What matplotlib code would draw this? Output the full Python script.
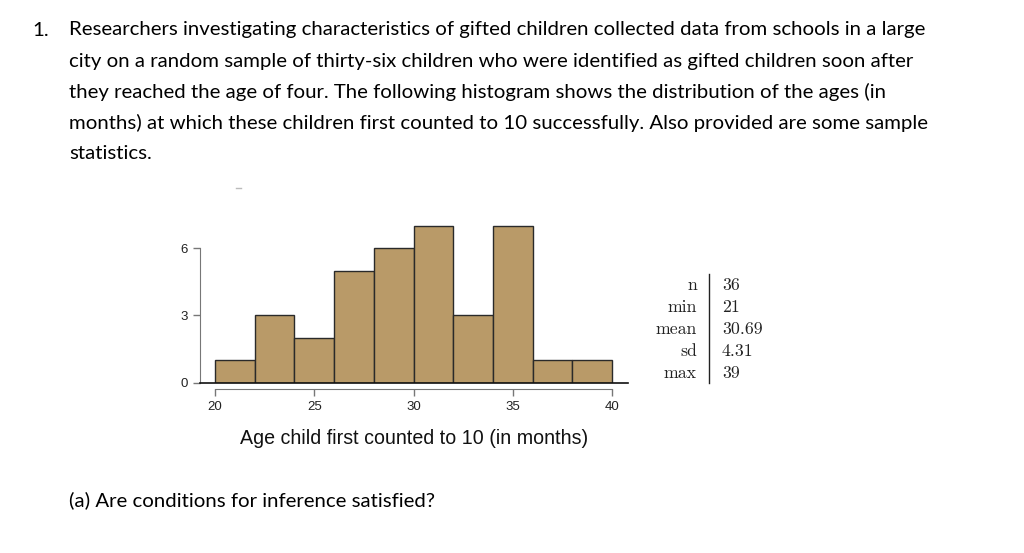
import matplotlib
matplotlib.use("Agg")
import matplotlib.pyplot as plt
import numpy as np

# ---- data ----
bin_edges = [20, 22, 24, 26, 28, 30, 32, 34, 36, 38, 40]
counts = [1, 3, 2, 5, 6, 7, 3, 7, 1, 1]
x_ticks = [20, 25, 30, 35, 40]
y_ticks = [0, 3, 6]
x_label = "Age child first counted to 10 (in months)"
stat_names = ["n", "min", "mean", "sd", "max"]
stat_values = ["36", "21", "30.69", "4.31", "39"]
question_lines = [
    "Researchers investigating characteristics of gifted children collected data from schools in a large",
    "city on a random sample of thirty-six children who were identified as gifted children soon after",
    "they reached the age of four. The following histogram shows the distribution of the ages (in",
    "months) at which these children first counted to 10 successfully. Also provided are some sample",
    "statistics.",
]
question_number = "1."
part_a = "(a) Are conditions for inference satisfied?"

W, H = 1024, 553
fig = plt.figure(figsize=(W / 100, H / 100), dpi=100)
fig.patch.set_facecolor("white")

def fx(px):
    return px / W

def fy(py):
    return 1 - py / H

# ---- question text ----
qfont = dict(family="Lato", fontsize=14.7, color="black")
fig.text(fx(32), fy(30), question_number, va="center", ha="left", **qfont)
for i, line in enumerate(question_lines):
    fig.text(fx(69), fy(30 + 31 * i), line, va="center", ha="left", **qfont)
fig.text(fx(69), fy(500), part_a, va="center", ha="left", **qfont)

# small faint scan artifact above the plot
fig.add_artist(plt.Line2D([fx(236), fx(241)], [fy(188), fy(188)],
                          color="#bbbbbb", linewidth=1.0))

# ---- histogram ----
ax_left, ax_right = 200, 628
y0_px = 382.5
px_per_y = 22.35
ytop = 7.25
ax = fig.add_axes([fx(ax_left), fy(y0_px), (ax_right - ax_left) / W, ytop * px_per_y / H])
px_per_x = (612 - 215) / 20.0
xmin = 20 - (215 - ax_left) / px_per_x
xmax = 40 + (ax_right - 612) / px_per_x
ax.set_xlim(xmin, xmax)
ax.set_ylim(0, ytop)

edges = np.array(bin_edges)
ax.bar(edges[:-1], counts, width=np.diff(edges), align="edge",
       color="#B99A68", edgecolor="#2a2a2a", linewidth=1.0, zorder=2)
ax.axhline(0, color="#111111", linewidth=1.2, zorder=3, clip_on=False)

for s in ["top", "right"]:
    ax.spines[s].set_visible(False)
ax.spines["left"].set_bounds(0, 6)
ax.spines["left"].set_color("#777777")
ax.spines["bottom"].set_bounds(20, 40)
ax.spines["bottom"].set_position(("outward", 5))
ax.spines["bottom"].set_color("#777777")
ax.set_xticks(x_ticks)
ax.set_yticks(y_ticks)
ax.tick_params(axis="both", colors="#777777", labelcolor="#222222",
               labelsize=9.5, length=5, width=1)
for lab in ax.get_xticklabels() + ax.get_yticklabels():
    lab.set_family("Liberation Sans")
ax.set_xlabel(x_label, family="Liberation Sans", fontsize=14.1, color="#111111", labelpad=11)

# ---- stats table ----
sfont = dict(family="cmr10", fontsize=12.8, color="#222222")
row_y = [285, 307, 329, 351, 373]
for name, val, ry in zip(stat_names, stat_values, row_y):
    fig.text(fx(697), fy(ry), name, ha="right", va="center", **sfont)
    fig.text(fx(722), fy(ry), val, ha="left", va="center", **sfont)
fig.add_artist(plt.Line2D([fx(709), fx(709)], [fy(274), fy(383)],
                          color="#222222", linewidth=1.0))

fig.savefig("out.png", dpi=100)
